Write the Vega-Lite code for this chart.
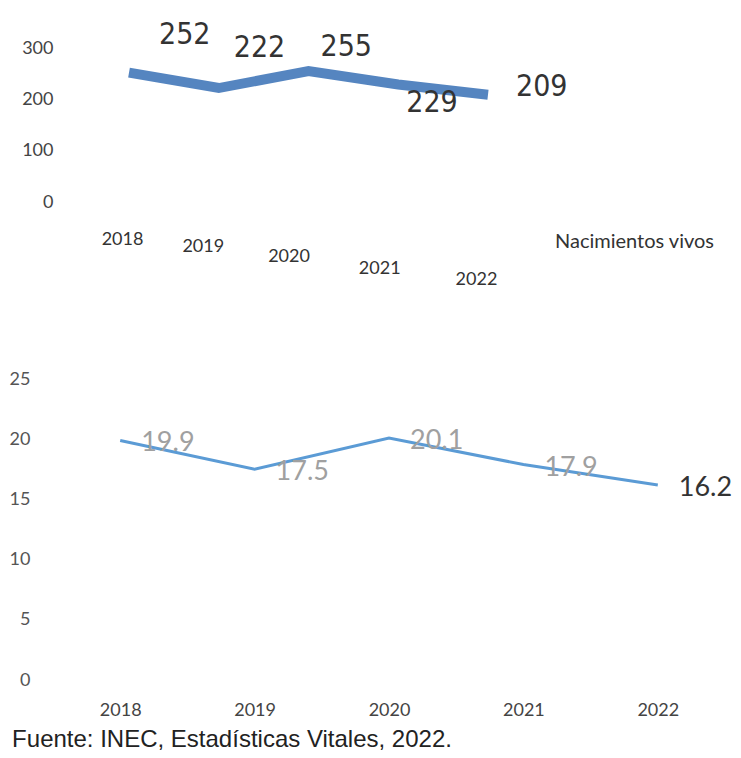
{
  "$schema": "https://vega.github.io/schema/vega-lite/v6.json",
  "background": "white",
  "padding": {"left": 9, "top": 19, "right": 5, "bottom": 5},
  "spacing": 79,
  "title": {
    "text": "Fuente: INEC, Estadísticas Vitales, 2022.",
    "orient": "bottom",
    "anchor": "start",
    "frame": "bounds",
    "dx": 3,
    "font": "Liberation Sans",
    "fontSize": 24,
    "fontWeight": "normal",
    "color": "#222222",
    "offset": 9
  },
  "config": {
    "view": {"stroke": null},
    "axis": {"grid": false, "domain": false, "ticks": false, "labelFont": "Lato", "labelFontSize": 17}
  },
  "vconcat": [
    {
      "width": 511,
      "height": 154,
      "data": {"values": [
        {"year": "2018", "value": 252},
        {"year": "2019", "value": 222},
        {"year": "2020", "value": 255},
        {"year": "2021", "value": 229},
        {"year": "2022", "value": 209}
      ]},
      "layer": [
        {
          "mark": {"type": "line", "strokeWidth": 10, "strokeJoin": "miter"},
          "encoding": {
            "x": {"field": "year", "type": "ordinal", "scale": {"type": "point", "padding": 0.847},
              "axis": {"title": null, "labelAngle": 0, "labelColor": "#333333", "labelFontSize": 18,
                "labelOffset": {"condition": [
                  {"test": "datum.label == '2019'", "value": -16},
                  {"test": "datum.label == '2020'", "value": -20},
                  {"test": "datum.label == '2021'", "value": -19},
                  {"test": "datum.label == '2022'", "value": -12}
                ], "value": -7},
                "labelPadding": {"condition": [
                  {"test": "datum.label == '2019'", "value": 35},
                  {"test": "datum.label == '2020'", "value": 45},
                  {"test": "datum.label == '2021'", "value": 57},
                  {"test": "datum.label == '2022'", "value": 68}
                ], "value": 28}}},
            "y": {"field": "value", "type": "quantitative", "scale": {"domain": [0, 300]},
              "axis": {"title": null, "values": [0, 100, 200, 300], "labelColor": "#444444", "labelFontSize": 18, "labelPadding": 0}},
            "color": {"datum": "Nacimientos vivos", "scale": {"range": ["#5585c0"]},
              "legend": {"title": null, "orient": "none", "legendX": 482, "legendY": 184, "symbolOpacity": 0, "symbolSize": 0, "symbolStrokeWidth": 0, "labelFont": "Lato", "labelFontSize": 20, "labelColor": "#333333", "labelOffset": 0}}
          }
        },
        {
          "mark": {"type": "text", "align": "left", "baseline": "middle",
            "dx": {"expr": "datum.year == '2018' ? 30 : datum.year == '2019' ? 15 : datum.year == '2020' ? 12 : datum.year == '2021' ? 8 : 28"},
            "dy": {"expr": "datum.year == '2018' ? -38 : datum.year == '2019' ? -40 : datum.year == '2020' ? -24 : datum.year == '2021' ? 19 : -8"},
            "font": "Liberation Sans Narrow, DejaVu Sans Condensed, Lato", "fontSize": 30, "color": "#333333"},
          "encoding": {
            "x": {"field": "year", "type": "ordinal"},
            "y": {"field": "value", "type": "quantitative"},
            "text": {"field": "value", "type": "quantitative"}
          }
        }
      ]
    },
    {
      "width": 672,
      "height": 313,
      "data": {"values": [
        {"year": "2018", "rate": 19.9},
        {"year": "2019", "rate": 17.5},
        {"year": "2020", "rate": 20.1},
        {"year": "2021", "rate": 17.9},
        {"year": "2022", "rate": 16.2}
      ]},
      "layer": [
        {
          "mark": {"type": "line", "strokeWidth": 3, "color": "#5b9bd5"},
          "encoding": {
            "x": {"field": "year", "type": "ordinal", "scale": {"type": "point", "padding": 0.5},
              "axis": {"title": null, "labelAngle": 0, "labelColor": "#444444", "labelFontSize": 18, "labelPadding": 21}},
            "y": {"field": "rate", "type": "quantitative", "scale": {"domain": [0, 25]},
              "axis": {"title": null, "values": [0, 5, 10, 15, 20, 25], "labelColor": "#555555", "labelFontSize": 18, "labelPadding": 23}}
          }
        },
        {
          "mark": {"type": "text", "align": "left", "baseline": "middle", "dx": 21, "dy": 3, "font": "Lato", "fontSize": 27},
          "encoding": {
            "x": {"field": "year", "type": "ordinal"},
            "y": {"field": "rate", "type": "quantitative"},
            "text": {"field": "rate", "type": "quantitative", "format": ".1f"},
            "color": {"condition": {"test": "datum.year == '2022'", "value": "#333333"}, "value": "#a0a0a0"}
          }
        }
      ]
    }
  ]
}
